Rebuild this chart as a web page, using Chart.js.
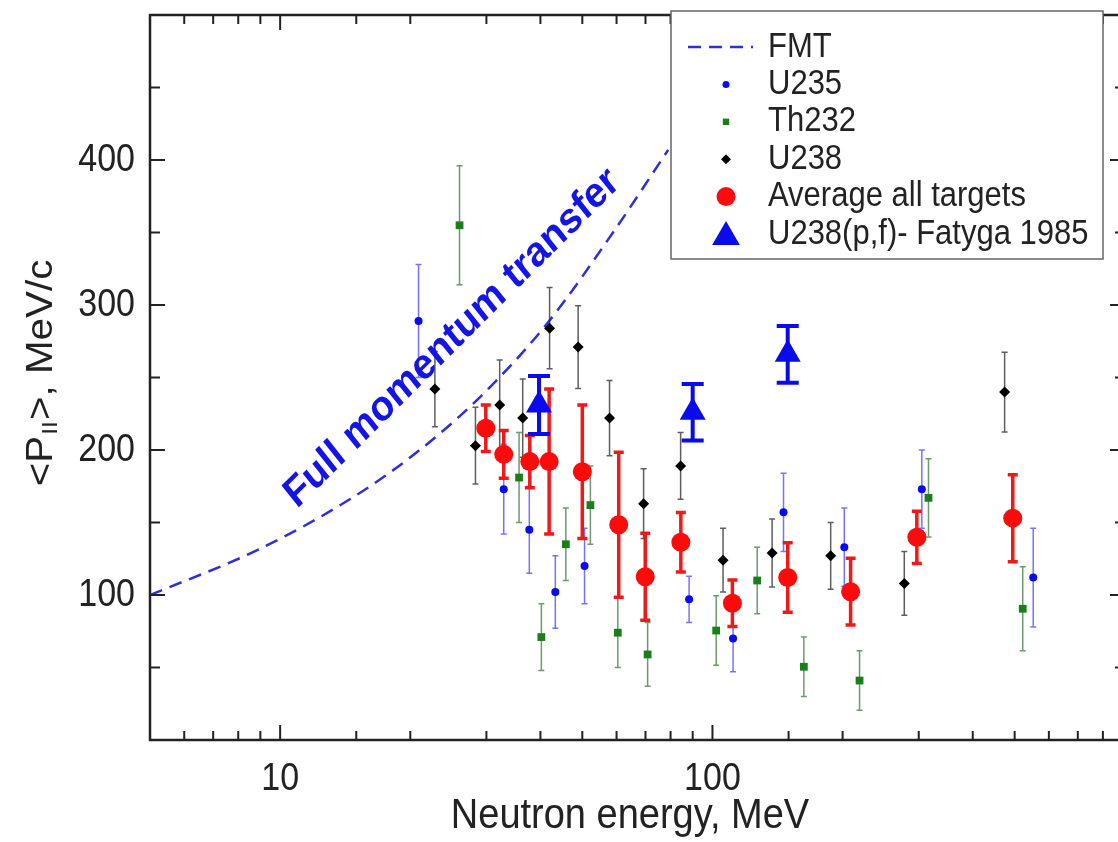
<!DOCTYPE html>
<html>
<head>
    <title>Mean parallel momentum vs neutron energy</title>
    <script src="https://cdn.jsdelivr.net/npm/chart.js@4.4.0/dist/chart.umd.min.js"></script>
    <style>
        body { margin: 0; overflow: hidden; background: #fff; }
        canvas { display: block; }
    </style>
</head>
<body>
    <canvas id="pChart" width="1140" height="842"></canvas>

    <script>
        // Full momentum transfer curve
        const fmtE = [5, 8.8, 14.4, 20.5, 29.2, 41.5, 59.2, 79];
        const fmtP = [100, 130.6, 165.5, 197.4, 237.4, 287.4, 351, 407];

        // U235
        const u235E = [20.9, 32.9, 37.7, 43.3, 50.6, 88.3, 111.6, 146, 201.8, 305, 552];
        const u235P = [289, 173, 145, 102, 120, 97, 70, 157, 133, 173, 112];
        const u235Err = [39, 31, 30, 25, 26, 16, 23, 27, 27, 27, 34];

        // Th232
        const th232E = [26.0, 35.7, 40.2, 45.8, 52.2, 60.4, 70.8, 102, 126.9, 162.7, 218.9, 316, 522];
        const th232P = [355, 181, 71, 135, 162, 74, 59, 75.5, 110, 50.5, 41, 167, 90.5];
        const th232Err = [41, 31, 23, 25, 27, 24, 22, 24, 23, 20.5, 20.5, 27, 29];

        // U238
        const u238E = [22.8, 28.3, 32.2, 36.4, 42.0, 48.9, 57.8, 69.3, 84.4, 105.8, 137.4, 187.7, 277.8, 474];
        const u238P = [242, 203, 231, 222, 284, 271, 222, 163, 189, 124, 129, 127, 108, 240];
        const u238Err = [26, 26.5, 31, 27, 28, 28.5, 26, 24, 23, 22, 23.5, 23, 22, 27.5];

        // Average all targets
        const avgE = [29.9, 32.9, 37.8, 41.9, 50.0, 60.7, 69.9, 84.5, 111.2, 149.3, 208.7, 297, 495];
        const avgP = [215, 197, 192, 192, 185, 148.5, 112.6, 136.4, 94.3, 112.1, 102.3, 139.8, 153];
        const avgErr = [16, 16.5, 18, 50, 46, 50, 30, 20.5, 16, 24, 23, 18, 30];

        // U238(p,f) - Fatyga 1985
        const fatE = [39.7, 90, 149.3];
        const fatP = [231, 226, 266];
        const fatErr = [20, 19.5, 19.6];

        const yLabels = [100, 200, 300, 400];
        const xLabels = [10, 100];

        // where the "Full momentum transfer" note sits, in data units
        const noteE = 25, noteP = 277;

        const FONT = "'Liberation Sans', Arial, sans-serif";
        const K = 1.12; // the picture's text is a little taller than wide

        function pts(xs, ys) {
            return xs.map((x, i) => ({ x: x, y: ys[i] }));
        }

        function text(ctx, str, x, y, font, color, align, baseline, angle) {
            ctx.save();
            ctx.translate(x, y);
            ctx.scale(1, K);
            if (angle) ctx.rotate(angle);
            ctx.font = font;
            ctx.fillStyle = color;
            ctx.textAlign = align;
            ctx.textBaseline = baseline;
            ctx.fillText(str, 0, 0);
            ctx.restore();
        }

        function marker(ctx, style, r, x, y, color) {
            ctx.fillStyle = color;
            ctx.beginPath();
            if (style === 'circle') {
                ctx.arc(x, y, r, 0, Math.PI * 2);
            } else if (style === 'rect') {
                const s = r * Math.SQRT1_2;
                ctx.rect(x - s, y - s, 2 * s, 2 * s);
            } else if (style === 'rectRot') {
                ctx.moveTo(x, y - r); ctx.lineTo(x + r, y);
                ctx.lineTo(x, y + r); ctx.lineTo(x - r, y);
                ctx.closePath();
            } else if (style === 'triangle') {
                ctx.moveTo(x, y - r);
                ctx.lineTo(x + r * 0.866, y + r / 2);
                ctx.lineTo(x - r * 0.866, y + r / 2);
                ctx.closePath();
            }
            ctx.fill();
        }

        // error bars, drawn just under each dataset's own markers
        const errorBars = {
            id: 'errorBars',
            beforeDatasetDraw(chart, args) {
                const ds = chart.data.datasets[args.index];
                if (!ds.err) return;
                const ctx = chart.ctx, xs = chart.scales.x, ys = chart.scales.y;
                ctx.save();
                ctx.strokeStyle = ds.errColor;
                ctx.lineWidth = ds.errWidth;
                ds.data.forEach((p, i) => {
                    const x = xs.getPixelForValue(p.x);
                    const y1 = ys.getPixelForValue(p.y + ds.err[i]);
                    const y2 = ys.getPixelForValue(p.y - ds.err[i]);
                    ctx.beginPath();
                    ctx.moveTo(x, y1); ctx.lineTo(x, y2);
                    ctx.moveTo(x - ds.cap, y1); ctx.lineTo(x + ds.cap, y1);
                    ctx.moveTo(x - ds.cap, y2); ctx.lineTo(x + ds.cap, y2);
                    ctx.stroke();
                });
                ctx.restore();
            }
        };

        // frame with inward ticks, labels, titles, note and legend
        const decorations = {
            id: 'decorations',
            afterDatasetsDraw(chart) {
                const ctx = chart.ctx, a = chart.chartArea;
                const xs = chart.scales.x, ys = chart.scales.y;

                // note along the FMT curve
                text(ctx, 'Full momentum transfer', xs.getPixelForValue(noteE), ys.getPixelForValue(noteP),
                    'bold 38px ' + FONT, '#1414e6', 'center', 'middle', -Math.atan(1 / K));

                // frame
                ctx.save();
                ctx.strokeStyle = '#222';
                ctx.lineWidth = 2.5;
                ctx.strokeRect(a.left, a.top, a.right - a.left, a.bottom - a.top);
                ctx.lineWidth = 2;
                ctx.beginPath();
                ys.ticks.forEach(t => {
                    const y = ys.getPixelForValue(t.value);
                    const len = t.value % 100 === 0 ? 15 : 10;
                    ctx.moveTo(a.left, y); ctx.lineTo(a.left + len, y);
                    ctx.moveTo(a.right, y); ctx.lineTo(a.right - len, y);
                });
                xs.ticks.forEach(t => {
                    const x = xs.getPixelForValue(t.value);
                    const lg = Math.log10(t.value);
                    const len = Math.abs(lg - Math.round(lg)) < 1e-6 ? 15 : 9;
                    ctx.moveTo(x, a.bottom); ctx.lineTo(x, a.bottom - len);
                    ctx.moveTo(x, a.top); ctx.lineTo(x, a.top + len);
                });
                ctx.stroke();
                ctx.restore();

                // legend
                const box = { left: 671, top: 11, right: 1103, bottom: 259 };
                ctx.save();
                ctx.fillStyle = '#fff';
                ctx.fillRect(box.left, box.top, box.right - box.left, box.bottom - box.top);
                ctx.strokeStyle = '#666';
                ctx.lineWidth = 1.5;
                ctx.strokeRect(box.left, box.top, box.right - box.left, box.bottom - box.top);
                chart.data.datasets.forEach((ds, i) => {
                    const y = 47 + i * 37.4;
                    if (ds.showLine) {
                        ctx.strokeStyle = ds.borderColor;
                        ctx.lineWidth = ds.borderWidth;
                        ctx.setLineDash(ds.borderDash);
                        ctx.beginPath();
                        ctx.moveTo(688, y); ctx.lineTo(753, y);
                        ctx.stroke();
                        ctx.setLineDash([]);
                    } else {
                        const dy = ds.pointStyle === 'triangle' ? 3 : 0;
                        marker(ctx, ds.pointStyle, ds.legendRadius, 726, y + dy, ds.backgroundColor);
                    }
                    text(ctx, ds.label, 768, y, '31px ' + FONT, '#222', 'left', 'middle');
                });
                ctx.restore();

                // tick labels
                yLabels.forEach(v => {
                    text(ctx, String(v), a.left - 15, ys.getPixelForValue(v), '34px ' + FONT, '#222', 'right', 'middle');
                });
                xLabels.forEach(v => {
                    text(ctx, String(v), xs.getPixelForValue(v), a.bottom + 39, '34px ' + FONT, '#222', 'center', 'middle');
                });

                // x title
                text(ctx, 'Neutron energy, MeV', 630, 828, '38px ' + FONT, '#222', 'center', 'alphabetic');

                // y title with subscript
                ctx.save();
                ctx.translate(42, 373);
                ctx.scale(1, K);
                ctx.rotate(-Math.PI / 2);
                ctx.fillStyle = '#222';
                ctx.textBaseline = 'middle';
                ctx.textAlign = 'left';
                const big = '36px ' + FONT, small = '22px ' + FONT;
                ctx.font = big;
                const w1 = ctx.measureText('<P').width;
                const w3 = ctx.measureText('>, MeV/c').width;
                ctx.font = small;
                const w2 = ctx.measureText('II').width + 2;
                let x0 = -(w1 + w2 + w3) / 2;
                ctx.font = big;
                ctx.fillText('<P', x0, 0);
                ctx.font = small;
                ctx.fillText('II', x0 + w1 + 1, 9);
                ctx.font = big;
                ctx.fillText('>, MeV/c', x0 + w1 + w2, 0);
                ctx.restore();
            }
        };

        const pChart = new Chart(document.getElementById('pChart'), {
            type: 'scatter',
            data: {
                datasets: [{
                    label: 'FMT',
                    data: pts(fmtE, fmtP),
                    showLine: true,
                    borderColor: '#2f2fd8',
                    borderWidth: 2.5,
                    borderDash: [13, 8],
                    pointRadius: 0,
                    cubicInterpolationMode: 'monotone',
                    order: 5
                }, {
                    label: 'U235',
                    data: pts(u235E, u235P),
                    pointStyle: 'circle',
                    pointRadius: 4,
                    legendRadius: 3.5,
                    backgroundColor: '#0a0af0',
                    borderColor: '#0a0af0',
                    borderWidth: 0,
                    err: u235Err, errColor: 'rgba(70,70,250,0.75)', errWidth: 1.5, cap: 3,
                    order: 2
                }, {
                    label: 'Th232',
                    data: pts(th232E, th232P),
                    pointStyle: 'rect',
                    pointRadius: 5.5,
                    legendRadius: 4.5,
                    backgroundColor: '#1a7f1a',
                    borderColor: '#1a7f1a',
                    borderWidth: 0,
                    err: th232Err, errColor: 'rgba(60,120,60,0.75)', errWidth: 1.5, cap: 3,
                    order: 3
                }, {
                    label: 'U238',
                    data: pts(u238E, u238P),
                    pointStyle: 'rectRot',
                    pointRadius: 5.5,
                    legendRadius: 5,
                    backgroundColor: '#000',
                    borderColor: '#000',
                    borderWidth: 0,
                    err: u238Err, errColor: 'rgba(40,40,40,0.75)', errWidth: 1.5, cap: 3,
                    order: 4
                }, {
                    label: 'Average all targets',
                    data: pts(avgE, avgP),
                    pointStyle: 'circle',
                    pointRadius: 9.5,
                    legendRadius: 9.5,
                    backgroundColor: '#ff0a0a',
                    borderColor: '#ff0a0a',
                    borderWidth: 0,
                    err: avgErr, errColor: '#f01818', errWidth: 3.5, cap: 5,
                    order: 1
                }, {
                    label: 'U238(p,f)- Fatyga 1985',
                    data: pts(fatE, fatP),
                    pointStyle: 'triangle',
                    pointRadius: 15,
                    legendRadius: 16,
                    backgroundColor: '#0a0aee',
                    borderColor: '#0a0aee',
                    borderWidth: 0,
                    err: fatErr, errColor: '#0a0aee', errWidth: 4, cap: 11,
                    order: 0
                }]
            },
            options: {
                responsive: false,
                animation: false,
                devicePixelRatio: 1,
                layout: { padding: { top: 6, right: 10, left: 0, bottom: 0 } },
                plugins: {
                    legend: { display: false },
                    tooltip: { enabled: false }
                },
                scales: {
                    x: {
                        type: 'logarithmic',
                        min: 5,
                        max: 900,
                        ticks: { display: false },
                        grid: { display: false },
                        border: { display: false },
                        afterFit: s => { s.height = 102; }
                    },
                    y: {
                        min: 0,
                        max: 500,
                        ticks: { display: false, stepSize: 50 },
                        grid: { display: false },
                        border: { display: false },
                        afterFit: s => { s.width = 150; }
                    }
                }
            },
            plugins: [errorBars, decorations]
        });
    </script>
</body>
</html>
